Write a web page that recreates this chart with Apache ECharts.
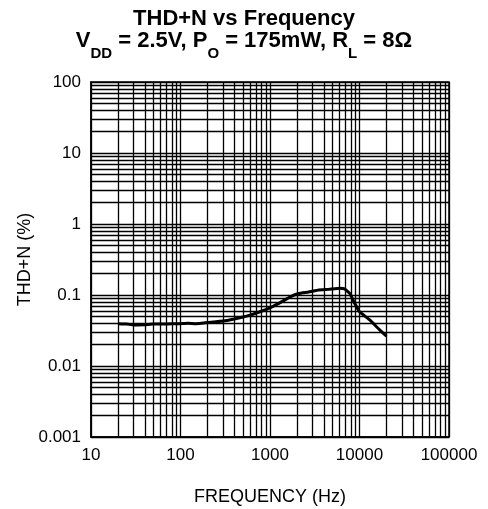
<!DOCTYPE html>
<html>
<head>
<meta charset="utf-8">
<script src="https://cdn.jsdelivr.net/npm/echarts@6/dist/echarts.min.js"></script>
<style>
html,body{margin:0;padding:0;background:#fff;}
#chart{width:488px;height:509px;}
</style>
</head>
<body>
<div id="chart"></div>
<script>
// Frequency (Hz)
var frequency = [20, 25, 30, 40, 50, 70, 100, 120, 150, 200, 300, 400, 500, 600, 800, 1000, 1300, 1700, 2100, 2700, 3500, 4500, 6000, 6800, 7800, 8800, 10000, 13000, 16000, 20000];
// THD+N (%)
var thdn = [0.0395, 0.039, 0.0378, 0.038, 0.039, 0.039, 0.0395, 0.040, 0.0395, 0.041, 0.043, 0.046, 0.049, 0.052, 0.059, 0.066, 0.078, 0.095, 0.105, 0.110, 0.118, 0.120, 0.124, 0.122, 0.105, 0.077, 0.058, 0.0446, 0.0343, 0.0263];
var xTicks = [10, 100, 1000, 10000, 100000];
var yTicks = [0.001, 0.01, 0.1, 1, 10, 100];
var multipliers = [2, 3, 4, 5, 6, 7, 8, 9];

var xMin = xTicks[0], xMax = xTicks[xTicks.length - 1];
var yMin = yTicks[0], yMax = yTicks[yTicks.length - 1];

var gridLines = [];
for (var i = 0; i < xTicks.length - 1; i++) {
  multipliers.forEach(function (m) {
    var v = parseFloat((xTicks[i] * m).toPrecision(3));
    gridLines.push([{ coord: [v, yMin] }, { coord: [v, yMax] }]);
  });
}
for (var j = 0; j < yTicks.length - 1; j++) {
  multipliers.forEach(function (m) {
    var v = parseFloat((yTicks[j] * m).toPrecision(3));
    gridLines.push([{ coord: [xMin, v] }, { coord: [xMax, v] }]);
  });
}

var FONT = 'Liberation Sans, Arial, Helvetica, sans-serif';
var fmt = function (v) { return String(parseFloat(Number(v).toPrecision(3))); };

var chart = echarts.init(document.getElementById('chart'), null, { renderer: 'canvas' });
chart.setOption({
  animation: false,
  backgroundColor: '#fff',
  title: [
    {
      text: 'THD+N vs Frequency',
      left: 'center', top: 8, padding: 0,
      textStyle: { fontFamily: FONT, fontSize: 22, fontWeight: 'bold', color: '#000', lineHeight: 22 }
    },
    {
      text: '{b|V}{s|DD}{b| = 2.5V, P}{s|O}{b| = 175mW, R}{s|L}{b| = 8Ω}',
      left: 'center', top: 30, padding: 0,
      textStyle: {
        fontFamily: FONT, fontSize: 22, fontWeight: 'bold', color: '#000',
        rich: {
          b: { fontFamily: FONT, fontSize: 22, fontWeight: 'bold', color: '#000', lineHeight: 26, verticalAlign: 'top' },
          s: { fontFamily: FONT, fontSize: 15, fontWeight: 'bold', color: '#000', lineHeight: 15, padding: [16, 0, 0, 0], verticalAlign: 'top' }
        }
      }
    }
  ],
  grid: { left: 91, right: 39, top: 82, bottom: 72, show: true, borderColor: '#000', borderWidth: 1.5, containLabel: false, outerBoundsMode: 'none' },
  xAxis: {
    type: 'log', logBase: 10, min: xMin, max: xMax,
    name: 'FREQUENCY (Hz)', nameLocation: 'middle', nameGap: 51, nameMoveOverlap: false,
    nameTextStyle: { fontFamily: FONT, fontSize: 18, color: '#000' },
    axisLine: { show: true, onZero: false, lineStyle: { color: '#000', width: 1.5 } },
    axisTick: { show: false },
    axisLabel: { fontFamily: FONT, fontSize: 17, color: '#000', margin: 10, formatter: fmt },
    splitLine: { show: true, lineStyle: { color: '#000', width: 1.3 } },
    minorTick: { show: false }, minorSplitLine: { show: false }
  },
  yAxis: {
    type: 'log', logBase: 10, min: yMin, max: yMax,
    name: 'THD+N (%)', nameLocation: 'middle', nameGap: 57, nameRotate: 90, nameMoveOverlap: false,
    nameTextStyle: { fontFamily: FONT, fontSize: 18, color: '#000' },
    axisLine: { show: true, onZero: false, lineStyle: { color: '#000', width: 1.5 } },
    axisTick: { show: false },
    axisLabel: { fontFamily: FONT, fontSize: 17, color: '#000', margin: 10, formatter: fmt },
    splitLine: { show: true, lineStyle: { color: '#000', width: 1.3 } },
    minorTick: { show: false }, minorSplitLine: { show: false }
  },
  series: [
    {
      type: 'line',
      data: [],
      silent: true,
      markLine: {
        silent: true, symbol: ['none', 'none'], animation: false,
        label: { show: false },
        lineStyle: { color: '#000', type: 'solid', width: 1.3 },
        emphasis: { disabled: true },
        data: gridLines
      }
    },
    {
      type: 'line',
      data: frequency.map(function (f, k) { return [f, thdn[k]]; }),
      showSymbol: false, symbol: 'none', smooth: 0.1,
      lineStyle: { color: '#000', width: 3 },
      z: 5
    }
  ]
});
</script>
</body>
</html>
